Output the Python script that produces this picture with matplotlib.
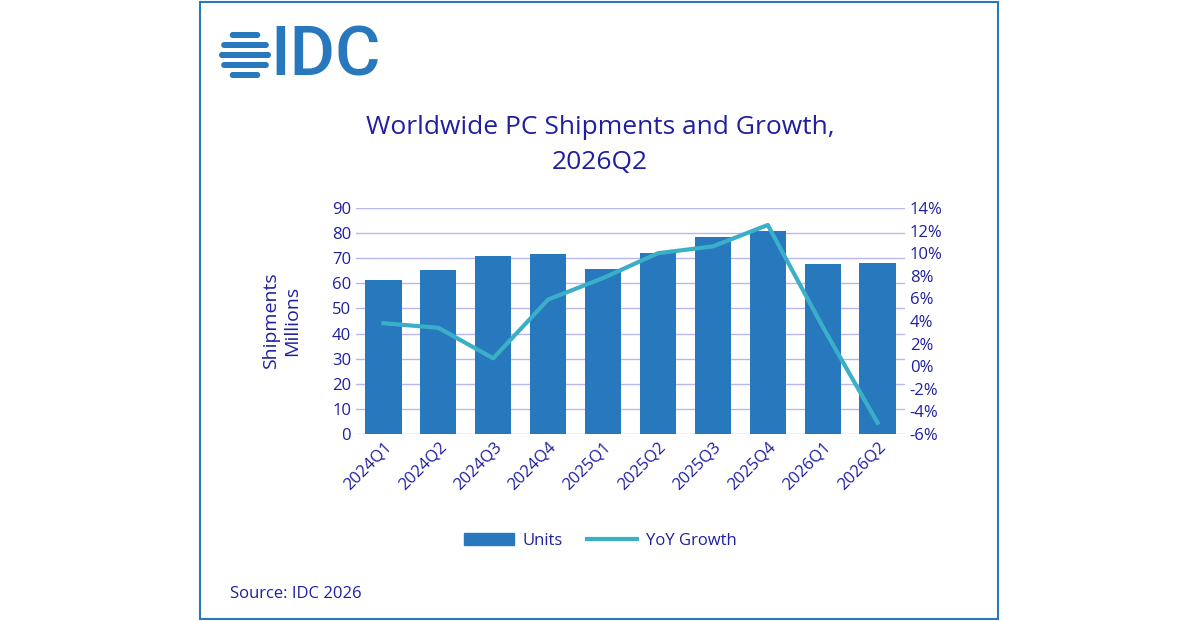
import matplotlib.pyplot as plt
import numpy as np
from matplotlib.patches import Rectangle, FancyBboxPatch

plt.rcParams['font.family'] = ['Open Sans', 'DejaVu Sans']

quarters = ['2024Q1', '2024Q2', '2024Q3', '2024Q4', '2025Q1',
            '2025Q2', '2025Q3', '2025Q4', '2026Q1', '2026Q2']
units = [61.3, 65.4, 71.0, 71.6, 65.7, 72.0, 78.4, 80.8, 67.7, 68.1]
yoy = [3.8, 3.4, 0.7, 5.9, 7.8, 10.0, 10.6, 12.5, 3.5, -5.0]

navy = '#1F1FA0'
bar_c = '#2878BE'
line_c = '#3BAFC8'
grid_c = '#B8B8F0'

fig = plt.figure(figsize=(12, 6.21), dpi=100)

# frame
fig.patches.append(Rectangle((200 / 1200, 2 / 621), 798 / 1200, 617 / 621,
                             transform=fig.transFigure, fill=False,
                             edgecolor='#2878BE', linewidth=1.5))

# logo
lax = fig.add_axes([0, 0, 1, 1])
lax.set_xlim(0, 1200)
lax.set_ylim(621, 0)
lax.axis('off')
cx, cy, r = 245, 55, 24
for yc in [35, 45, 55, 65, 75]:
    half = np.sqrt(max(r ** 2 - (yc - cy) ** 2, 0)) + 2
    lax.add_patch(FancyBboxPatch((cx - half, yc - 3), 2 * half, 6,
                                 boxstyle='round,pad=0,rounding_size=3',
                                 color=bar_c, lw=0))
lax.text(270, 57, 'IDC', fontsize=50, color=bar_c, va='center', ha='left',
         fontweight='medium', family=['Roboto', 'DejaVu Sans'])

fig.text(600 / 1200, 1 - 145 / 621, 'Worldwide PC Shipments and Growth,\n2026Q2',
         ha='center', va='center', fontsize=19, color=navy, linespacing=1.5)

ax = fig.add_axes([356 / 1200, 1 - 434 / 621, 549 / 1200, 226 / 621])
x = np.arange(len(quarters))
ax.bar(x, units, width=0.66, color=bar_c, zorder=2)
ax.set_ylim(0, 90)
ax.set_yticks(range(0, 91, 10))
ax.set_xlim(-0.5, len(quarters) - 0.5)
ax.grid(axis='y', color=grid_c, linewidth=1, zorder=0)
ax.set_xticks(x)
ax.set_xticklabels(quarters, rotation=45, ha='right', rotation_mode='anchor')
for s in ax.spines.values():
    s.set_visible(False)
ax.tick_params(length=0, colors=navy, labelsize=12)
ax.set_ylabel('Shipments\nMillions', color=navy, fontsize=14, labelpad=22)

ax2 = ax.twinx()
ax2.plot(x, yoy, color=line_c, linewidth=3, zorder=3)
ax2.set_ylim(-6, 14)
ax2.set_yticks(range(-6, 15, 2))
ax2.set_yticklabels([f'{v}%' for v in range(-6, 15, 2)])
for s in ax2.spines.values():
    s.set_visible(False)
ax2.tick_params(length=0, colors=navy, labelsize=12)

h1 = Rectangle((0, 0), 1, 1, color=bar_c)
h2 = plt.Line2D([0], [0], color=line_c, linewidth=3)
fig.legend([h1, h2], ['Units', 'YoY Growth'], loc='center',
           bbox_to_anchor=(600 / 1200, 1 - 541 / 621), ncol=2, frameon=False,
           fontsize=12, labelcolor=navy, handlelength=3, handletextpad=0.5,
           columnspacing=1.5)

fig.text(230 / 1200, 1 - 594 / 621, 'Source: IDC 2026', fontsize=12,
         color=navy, va='center')

fig.savefig('out.png', dpi=100)
